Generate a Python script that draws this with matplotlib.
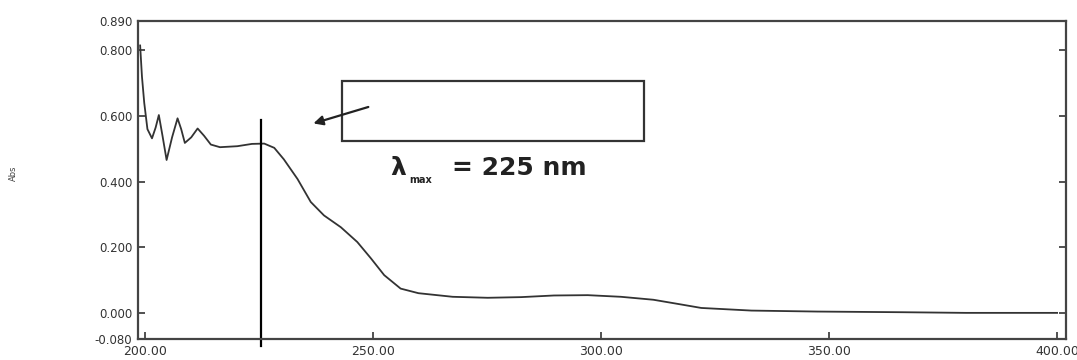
import matplotlib.pyplot as plt

# spectrum (wavelength nm, absorbance)
wavelength = [199.0, 199.4, 199.9, 200.6, 201.6, 202.4, 203.1, 203.9, 204.8, 206.0,
              207.2, 208.0, 208.8, 210.2, 211.6, 213.0, 214.5, 216.5, 220.3, 223.5,
              226.2, 228.4, 230.5, 233.5, 236.4, 239.3, 243.0, 246.6, 249.6, 252.5,
              256.1, 260.0, 267.5, 275.2, 282.5, 289.7, 297.1, 304.4, 311.5, 317.0,
              322.0, 333.0, 347.5, 366.0, 380.0, 400.0]
absorbance = [0.815, 0.720, 0.640, 0.560, 0.532, 0.565, 0.603, 0.540, 0.466, 0.535,
              0.593, 0.560, 0.518, 0.535, 0.562, 0.540, 0.513, 0.505, 0.508, 0.515,
              0.516, 0.503, 0.468, 0.408, 0.338, 0.297, 0.261, 0.216, 0.166, 0.115,
              0.074, 0.060, 0.049, 0.046, 0.048, 0.053, 0.054, 0.049, 0.040, 0.027,
              0.015, 0.007, 0.004, 0.002, 0.000, 0.000]

x_ticks = [200, 250, 300, 350, 400]
y_ticks = [-0.08, 0.0, 0.2, 0.4, 0.6, 0.8, 0.89]
lambda_max = 225.5

fig = plt.figure(figsize=(10.77, 3.6), dpi=100)
ax = fig.add_axes([0.128, 0.058, 0.862, 0.884])

ax.plot(wavelength, absorbance, color="#333333", linewidth=1.3)

# lambda max marker line (runs past the bottom of the frame, as in the scan)
ax.plot([lambda_max, lambda_max], [0.587, -0.10], color="black", linewidth=1.6,
        clip_on=False)

# empty box and arrow
ax.add_patch(plt.Rectangle((243.2, 0.523), 66.2, 0.183, fill=False,
                           edgecolor="#333333", linewidth=1.6))
ax.annotate("", xy=(236.4, 0.575), xytext=(249.6, 0.630),
            arrowprops=dict(arrowstyle="-|>", color="#222222", lw=1.6,
                            mutation_scale=14))

ax.text(255.6, 0.419, "λ", fontsize=18, fontweight="bold", ha="center",
        va="baseline", color="#222222")
ax.text(257.9, 0.396, "max", fontsize=7, fontweight="bold", ha="left",
        va="baseline", color="#222222")
ax.text(267.3, 0.419, "= 225 nm", fontsize=18, fontweight="bold", ha="left",
        va="baseline", color="#222222")

ax.set_xlim(198.5, 402.0)
ax.set_ylim(-0.08, 0.89)
ax.set_xticks(x_ticks)
ax.set_xticklabels([f"{v:.2f}" for v in x_ticks])
ax.set_yticks(y_ticks)
ax.set_yticklabels([f"{v:.3f}" for v in y_ticks])

ax.tick_params(axis="both", direction="in", length=5, width=1.2,
               labelsize=8.5, colors="#333333")
ax.tick_params(axis="y", right=True, pad=4)
ax.tick_params(axis="x", pad=4, labelsize=9)

for side in ax.spines.values():
    side.set_linewidth(1.6)
    side.set_color("#444444")

ax.set_ylabel("Abs", fontsize=6, color="#444444")
ax.yaxis.set_label_coords(-0.129, 0.52)

plt.savefig("out.png", dpi=100)
